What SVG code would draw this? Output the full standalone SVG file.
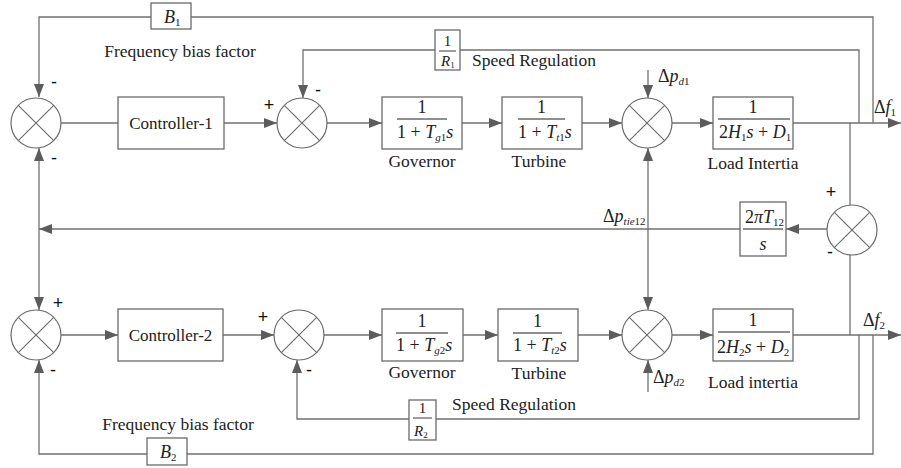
<svg xmlns="http://www.w3.org/2000/svg" width="901" height="468" viewBox="0 0 901 468">
<style>
.ln{fill:none;stroke:#707070;stroke-width:1.3}
.bx{fill:#fff;stroke:#6a6a6a;stroke-width:1.3}
.sj{fill:#fff;stroke:#6a6a6a;stroke-width:1.2}
.x{stroke:#6a6a6a;stroke-width:1.1}
.fr{stroke:#6a6a6a;stroke-width:1.3}
.t{font-family:"Liberation Serif","Times New Roman",serif;font-size:17.5px;fill:#222}
.m{font-family:"Liberation Serif","Times New Roman",serif;font-size:18px;fill:#222}
.i{font-style:italic}
.sb{font-size:11px}
.sg{font-family:"Liberation Sans",Arial,sans-serif;font-size:18px;fill:#111;text-anchor:middle}
.a{marker-end:url(#ah)}
.aa{marker-end:url(#ah);marker-start:url(#ahs)}
</style>
<defs>
<marker id="ah" markerUnits="userSpaceOnUse" markerWidth="14" markerHeight="10" refX="13" refY="5" orient="auto">
<path d="M0,0 L13,5 L0,10 Z" fill="#5c5c5c"/>
</marker>
<marker id="ahs" markerUnits="userSpaceOnUse" markerWidth="14" markerHeight="10" refX="13" refY="5" orient="auto-start-reverse">
<path d="M0,0 L13,5 L0,10 Z" fill="#5c5c5c"/>
</marker>
</defs>

<g id="connectors">
<!-- area 1 -->
<polyline class="ln" points="873,123 873,17 191,17"/>
<polyline class="ln a" points="151,17 39,17 39,97"/>
<line class="ln" x1="61" y1="123" x2="118" y2="123"/>
<line class="ln a" x1="224" y1="123" x2="277" y2="123"/>
<polyline class="ln" points="859,123 859,50 460,50"/>
<polyline class="ln a" points="435,50 303,50 303,98"/>
<line class="ln a" x1="327" y1="123" x2="382" y2="123"/>
<line class="ln a" x1="462" y1="123" x2="502" y2="123"/>
<line class="ln a" x1="582" y1="123" x2="622" y2="123"/>
<line class="ln a" x1="648" y1="70" x2="648" y2="98"/>
<line class="ln a" x1="672" y1="123" x2="713" y2="123"/>
<line class="ln a" x1="793" y1="123" x2="901" y2="123"/>
<line class="ln" x1="850" y1="123" x2="850" y2="205"/>
<!-- tie line -->
<line class="ln a" x1="827" y1="229" x2="786" y2="229"/>
<line class="ln a" x1="740" y1="229" x2="39" y2="229"/>
<line class="ln aa" x1="39" y1="148" x2="39" y2="310"/>
<line class="ln aa" x1="648" y1="148" x2="648" y2="310"/>
<line class="ln" x1="850" y1="255" x2="850" y2="335"/>
<!-- area 2 -->
<line class="ln a" x1="61" y1="335" x2="118" y2="335"/>
<line class="ln a" x1="223" y1="335" x2="274" y2="335"/>
<line class="ln a" x1="324" y1="335" x2="382" y2="335"/>
<line class="ln a" x1="463" y1="335" x2="498" y2="335"/>
<line class="ln a" x1="578" y1="335" x2="622" y2="335"/>
<line class="ln a" x1="672" y1="335" x2="713" y2="335"/>
<line class="ln a" x1="793" y1="335" x2="901" y2="335"/>
<polyline class="ln" points="859,335 859,419 436,419"/>
<polyline class="ln a" points="409,419 297,419 297,360"/>
<polyline class="ln" points="873,335 873,454 187,454"/>
<polyline class="ln a" points="147,454 39,454 39,360"/>
<line class="ln a" x1="648" y1="392" x2="648" y2="360"/>
</g>

<!-- summing junctions -->
<g id="sum1"><circle class="sj" cx="36" cy="123" r="25"/><line class="x" x1="18.3" y1="105.3" x2="53.7" y2="140.7"/><line class="x" x1="53.7" y1="105.3" x2="18.3" y2="140.7"/>
<text class="sg" x="54" y="88">-</text><text class="sg" x="54" y="164">-</text></g>
<g id="sum2"><circle class="sj" cx="302" cy="123" r="25"/><line class="x" x1="284.3" y1="105.3" x2="319.7" y2="140.7"/><line class="x" x1="319.7" y1="105.3" x2="284.3" y2="140.7"/>
<text class="sg" x="269" y="111">+</text><text class="sg" x="318" y="96">-</text></g>
<g id="sum3"><circle class="sj" cx="647" cy="123" r="25"/><line class="x" x1="629.3" y1="105.3" x2="664.7" y2="140.7"/><line class="x" x1="664.7" y1="105.3" x2="629.3" y2="140.7"/></g>
<g id="sum4"><circle class="sj" cx="852" cy="230" r="25"/><line class="x" x1="834.3" y1="212.3" x2="869.7" y2="247.7"/><line class="x" x1="869.7" y1="212.3" x2="834.3" y2="247.7"/>
<text class="sg" x="831" y="198">+</text><text class="sg" x="830" y="258">-</text></g>
<g id="sum5"><circle class="sj" cx="36" cy="335" r="25"/><line class="x" x1="18.3" y1="317.3" x2="53.7" y2="352.7"/><line class="x" x1="53.7" y1="317.3" x2="18.3" y2="352.7"/>
<text class="sg" x="58" y="309">+</text><text class="sg" x="53" y="376">-</text></g>
<g id="sum6"><circle class="sj" cx="299" cy="335" r="25"/><line class="x" x1="281.3" y1="317.3" x2="316.7" y2="352.7"/><line class="x" x1="316.7" y1="317.3" x2="281.3" y2="352.7"/>
<text class="sg" x="263" y="323">+</text><text class="sg" x="309" y="376">-</text></g>
<g id="sum7"><circle class="sj" cx="647" cy="335" r="25"/><line class="x" x1="629.3" y1="317.3" x2="664.7" y2="352.7"/><line class="x" x1="664.7" y1="317.3" x2="629.3" y2="352.7"/></g>

<!-- blocks area 1 -->
<g id="B1"><rect class="bx" x="151" y="3" width="40" height="26"/>
<text class="m" x="164" y="23"><tspan class="i">B</tspan><tspan class="sb" dy="3">1</tspan></text></g>
<text class="t" x="180" y="57" text-anchor="middle">Frequency bias factor</text>
<g id="controller1"><rect class="bx" x="118" y="97" width="106" height="52"/>
<text class="t" x="171" y="129" text-anchor="middle" style="font-size:17px">Controller-1</text></g>
<g id="R1"><rect class="bx" x="435" y="30" width="25" height="40"/>
<line class="fr" x1="439" y1="51" x2="456" y2="51"/>
<text class="m" x="447.5" y="46" text-anchor="middle" style="font-size:15px">1</text>
<text class="m" x="441" y="66" style="font-size:15px"><tspan class="i">R</tspan><tspan class="sb" style="font-size:9px" dy="2">1</tspan></text></g>
<text class="t" x="472" y="66">Speed Regulation</text>
<g id="gov1"><rect class="bx" x="382" y="97" width="80" height="52"/>
<line class="fr" x1="397" y1="119" x2="447" y2="119"/>
<text class="m" x="422" y="113" text-anchor="middle">1</text>
<text class="m" x="397" y="138">1 + <tspan class="i">T</tspan><tspan class="sb i" dy="3">g</tspan><tspan class="sb" >1</tspan><tspan class="i" dy="-3">s</tspan></text></g>
<text class="t" x="422" y="167" text-anchor="middle">Governor</text>
<g id="turb1"><rect class="bx" x="502" y="97" width="80" height="52"/>
<line class="fr" x1="518" y1="119" x2="565" y2="119"/>
<text class="m" x="541.5" y="113" text-anchor="middle">1</text>
<text class="m" x="518" y="138">1 + <tspan class="i">T</tspan><tspan class="sb i" dy="3">t</tspan><tspan class="sb">1</tspan><tspan class="i" dy="-3">s</tspan></text></g>
<text class="t" x="539" y="167" text-anchor="middle">Turbine</text>
<text class="m" x="658" y="82">Δ<tspan class="i">p</tspan><tspan class="sb i" dy="3">d</tspan><tspan class="sb">1</tspan></text>
<g id="load1"><rect class="bx" x="713" y="97" width="80" height="52"/>
<line class="fr" x1="718" y1="119" x2="790" y2="119"/>
<text class="m" x="753" y="113" text-anchor="middle">1</text>
<text class="m" x="719" y="138">2<tspan class="i">H</tspan><tspan class="sb" dy="3">1</tspan><tspan class="i" dy="-3">s</tspan> + <tspan class="i">D</tspan><tspan class="sb" dy="3">1</tspan></text></g>
<text class="t" x="753" y="169" text-anchor="middle">Load Intertia</text>
<text class="m" x="874" y="113">Δ<tspan class="i">f</tspan><tspan class="sb" dy="3">1</tspan></text>

<!-- tie line -->
<g id="tie"><rect class="bx" x="740" y="202" width="46" height="54"/>
<line class="fr" x1="743" y1="229" x2="783" y2="229"/>
<text class="m" x="745" y="223">2<tspan class="i">πT</tspan><tspan class="sb" dy="3">12</tspan></text>
<text class="m" x="763" y="250" text-anchor="middle"><tspan class="i">s</tspan></text></g>
<text class="m" x="603" y="222">Δ<tspan class="i">p</tspan><tspan class="sb i" dy="3">tie</tspan><tspan class="sb">12</tspan></text>

<!-- blocks area 2 -->
<g id="controller2"><rect class="bx" x="118" y="309" width="105" height="52"/>
<text class="t" x="170.5" y="341" text-anchor="middle" style="font-size:17px">Controller-2</text></g>
<g id="gov2"><rect class="bx" x="382" y="309" width="81" height="52"/>
<line class="fr" x1="396" y1="333" x2="448" y2="333"/>
<text class="m" x="422" y="327" text-anchor="middle">1</text>
<text class="m" x="396" y="351">1 + <tspan class="i">T</tspan><tspan class="sb i" dy="3">g</tspan><tspan class="sb">2</tspan><tspan class="i" dy="-3">s</tspan></text></g>
<text class="t" x="422" y="378" text-anchor="middle">Governor</text>
<g id="turb2"><rect class="bx" x="498" y="309" width="80" height="52"/>
<line class="fr" x1="513" y1="333" x2="562" y2="333"/>
<text class="m" x="537.5" y="327" text-anchor="middle">1</text>
<text class="m" x="513" y="351">1 + <tspan class="i">T</tspan><tspan class="sb i" dy="3">t</tspan><tspan class="sb">2</tspan><tspan class="i" dy="-3">s</tspan></text></g>
<text class="t" x="539" y="379" text-anchor="middle">Turbine</text>
<g id="R2"><rect class="bx" x="409" y="400" width="27" height="40"/>
<line class="fr" x1="413" y1="418" x2="432" y2="418"/>
<text class="m" x="422.5" y="413" text-anchor="middle" style="font-size:15px">1</text>
<text class="m" x="414" y="436" style="font-size:15px"><tspan class="i">R</tspan><tspan class="sb" style="font-size:9px" dy="2">2</tspan></text></g>
<text class="t" x="452" y="410">Speed Regulation</text>
<text class="t" x="178" y="430" text-anchor="middle">Frequency bias factor</text>
<g id="B2"><rect class="bx" x="147" y="438" width="40" height="27"/>
<text class="m" x="160" y="458"><tspan class="i">B</tspan><tspan class="sb" dy="3">2</tspan></text></g>
<text class="m" x="653" y="383">Δ<tspan class="i">p</tspan><tspan class="sb i" dy="3">d</tspan><tspan class="sb">2</tspan></text>
<g id="load2"><rect class="bx" x="713" y="309" width="80" height="52"/>
<line class="fr" x1="718" y1="332" x2="790" y2="332"/>
<text class="m" x="753" y="326" text-anchor="middle">1</text>
<text class="m" x="717" y="353">2<tspan class="i">H</tspan><tspan class="sb" dy="3">2</tspan><tspan class="i" dy="-3">s</tspan> + <tspan class="i">D</tspan><tspan class="sb" dy="3">2</tspan></text></g>
<text class="t" x="753" y="388" text-anchor="middle">Load intertia</text>
<text class="m" x="863" y="326">Δ<tspan class="i">f</tspan><tspan class="sb" dy="3">2</tspan></text>
</svg>
